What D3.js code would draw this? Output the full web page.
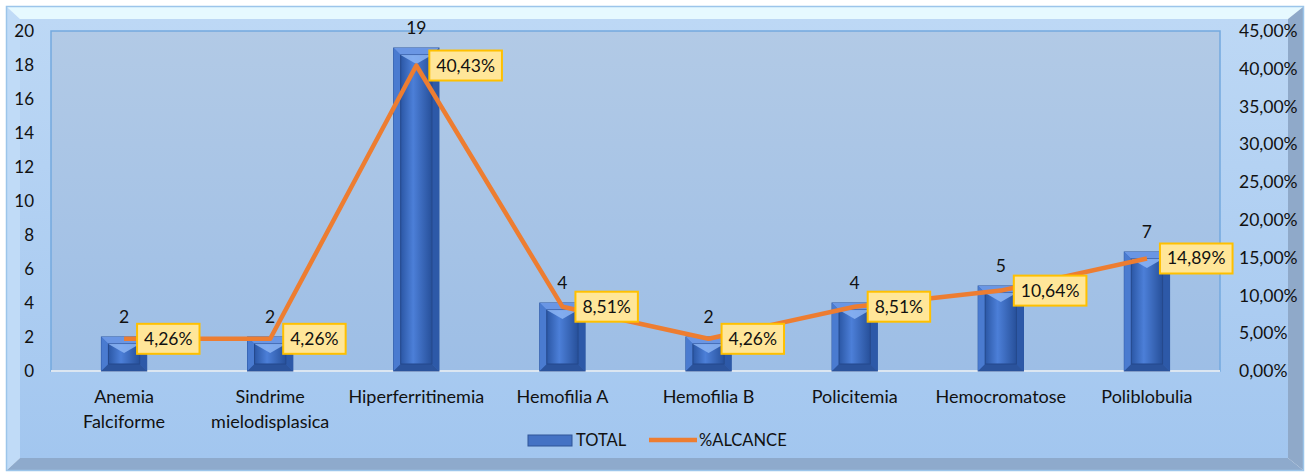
<!DOCTYPE html>
<html>
<head>
<meta charset="utf-8">
<script src="https://cdn.jsdelivr.net/npm/d3@7"></script>
<style>
  body { margin: 0; background: #ffffff; }
  svg text { font-family: Lato, "Open Sans", sans-serif; fill: #111111; }
</style>
</head>
<body>
<svg id="chart" width="1314" height="472"></svg>
<script>
// data
var categories = ["Anemia Falciforme", "Sindrime mielodisplasica", "Hiperferritinemia",
                  "Hemofilia A", "Hemofilia B", "Policitemia", "Hemocromatose", "Poliblobulia"];
var categoryLines = [["Anemia", "Falciforme"], ["Sindrime", "mielodisplasica"], ["Hiperferritinemia"],
                     ["Hemofilia A"], ["Hemofilia B"], ["Policitemia"], ["Hemocromatose"], ["Poliblobulia"]];
var totals = [2, 2, 19, 4, 2, 4, 5, 7];
var alcance = [4.26, 4.26, 40.43, 8.51, 4.26, 8.51, 10.64, 14.89];
var leftTicks = [0, 2, 4, 6, 8, 10, 12, 14, 16, 18, 20];
var rightTicks = [0, 5, 10, 15, 20, 25, 30, 35, 40, 45];
var seriesNames = ["TOTAL", "%ALCANCE"];

var svg = d3.select("#chart");

var plot = { left: 51, right: 1220, top: 31, bottom: 371 };

var ptBR = d3.formatLocale({ decimal: ",", thousands: ".", grouping: [3], currency: ["", ""] });
var fmtPct = ptBR.format(".2f");

var x = d3.scaleBand()
	.domain(categories)
	.range([plot.left, plot.right])
	.paddingInner(0.69)
	.paddingOuter(0.345);

var yLeft = d3.scaleLinear().domain([0, 20]).range([plot.bottom, plot.top]);
var yRight = d3.scaleLinear().domain([0, 45]).range([plot.bottom, plot.top]);

// gradients
var defs = svg.append("defs");

function vGrad(id, c1, c2) {
	var g = defs.append("linearGradient").attr("id", id)
		.attr("x1", 0).attr("y1", 0).attr("x2", 0).attr("y2", 1);
	g.append("stop").attr("offset", "0%").attr("stop-color", c1);
	g.append("stop").attr("offset", "100%").attr("stop-color", c2);
}
vGrad("faceGrad", "#bdd8f5", "#a2c6ef");
vGrad("plotGrad", "#b2cae6", "#9dbee6");

var hg = defs.append("linearGradient").attr("id", "barInner")
	.attr("x1", 0).attr("y1", 0).attr("x2", 1).attr("y2", 0);
hg.append("stop").attr("offset", "0%").attr("stop-color", "#2b57a5");
hg.append("stop").attr("offset", "40%").attr("stop-color", "#4c7fd8");
hg.append("stop").attr("offset", "100%").attr("stop-color", "#27509a");

// 3d frame
var fL = 7, fT = 7, fR = 1303, fB = 470, iL = 20, iT = 19, iR = 1288, iB = 458;
var frame = svg.append("g");
frame.append("polygon").attr("fill", "#e6f9ff")
	.attr("points", [[fL, fT], [fR, fT], [iR, iT], [iL, iT]].join(" "));
frame.append("polygon").attr("fill", "#c0dbf7")
	.attr("points", [[fL, fT], [iL, iT], [iL, iB], [fL, fB]].join(" "));
frame.append("polygon").attr("fill", "#8fa9c9")
	.attr("points", [[fR, fT], [fR, fB], [iR, iB], [iR, iT]].join(" "));
frame.append("polygon").attr("fill", "#8eaacc")
	.attr("points", [[fL, fB], [iL, iB], [iR, iB], [fR, fB]].join(" "));
frame.append("rect").attr("x", iL).attr("y", iT)
	.attr("width", iR - iL).attr("height", iB - iT).attr("fill", "url(#faceGrad)");
frame.append("rect").attr("x", 6.5).attr("y", 6.5)
	.attr("width", 1297).attr("height", 464)
	.attr("fill", "none").attr("stroke", "#9cc5ea").attr("stroke-width", 1.5);

// plot area
svg.append("rect")
	.attr("x", plot.left).attr("y", plot.top)
	.attr("width", plot.right - plot.left).attr("height", plot.bottom - plot.top)
	.attr("fill", "url(#plotGrad)")
	.attr("stroke", "#74a9de").attr("stroke-width", 1.5);
svg.append("line")
	.attr("x1", plot.left).attr("x2", plot.right)
	.attr("y1", plot.bottom).attr("y2", plot.bottom)
	.attr("stroke", "#dce6f1").attr("stroke-width", 2);

// axes (labels only)
var axL = svg.append("g")
	.attr("transform", "translate(34,0)")
	.call(d3.axisLeft(yLeft).tickValues(leftTicks).tickSize(0).tickPadding(0));
axL.select(".domain").remove();
axL.selectAll("text").attr("font-size", 17).style("font-family", "Lato, sans-serif").attr("fill", "#111");

var axR = svg.append("g")
	.attr("transform", "translate(1239,0)")
	.call(d3.axisRight(yRight).tickValues(rightTicks).tickSize(0).tickPadding(0)
		.tickFormat(d => fmtPct(d) + "%"));
axR.select(".domain").remove();
axR.selectAll("text").attr("font-size", 17.5).style("font-family", "Lato, sans-serif").attr("fill", "#111");

// category labels
var catG = svg.append("g");
categories.forEach(function(c, i) {
	var t = catG.append("text")
		.attr("x", x(c) + x.bandwidth() / 2)
		.attr("y", 403)
		.attr("text-anchor", "middle")
		.attr("font-size", 18);
	categoryLines[i].forEach(function(line, j) {
		t.append("tspan").attr("x", x(c) + x.bandwidth() / 2)
			.attr("dy", j == 0 ? 0 : 25).text(line);
	});
});

// bars
var barData = categories.map((c, i) => ({ cat: c, v: totals[i] }));
var bars = svg.append("g").selectAll("g")
	.data(barData)
	.enter()
	.append("g");

var ins = 7;
bars.each(function(d) {
	var g = d3.select(this);
	var x0 = x(d.cat), w = x.bandwidth();
	var y0 = yLeft(d.v), y1 = yLeft(0);
	g.append("rect").attr("x", x0).attr("y", y0).attr("width", w).attr("height", y1 - y0)
		.attr("fill", "#3e6dc2").attr("stroke", "#2a55a0").attr("stroke-width", 1);
	// bevel faces
	g.append("polygon").attr("fill", "#6a96e4")
		.attr("points", [[x0, y0], [x0 + w, y0], [x0 + w - ins, y0 + ins], [x0 + ins, y0 + ins]].join(" "));
	g.append("polygon").attr("fill", "#4a7bd0")
		.attr("points", [[x0, y0], [x0 + ins, y0 + ins], [x0 + ins, y1 - ins], [x0, y1]].join(" "));
	g.append("polygon").attr("fill", "#2d59a8")
		.attr("points", [[x0 + w, y0], [x0 + w, y1], [x0 + w - ins, y1 - ins], [x0 + w - ins, y0 + ins]].join(" "));
	g.append("polygon").attr("fill", "#2b539c")
		.attr("points", [[x0, y1], [x0 + ins, y1 - ins], [x0 + w - ins, y1 - ins], [x0 + w, y1]].join(" "));
	g.append("rect").attr("x", x0 + ins).attr("y", y0 + ins)
		.attr("width", w - 2 * ins).attr("height", Math.max(0, y1 - y0 - 2 * ins))
		.attr("fill", "url(#barInner)")
		.attr("stroke", "#25498c").attr("stroke-width", 1);
	// top highlight
	var cx = x0 + w / 2;
	g.append("polygon").attr("fill", "#8cb5f5").attr("opacity", 0.85)
		.attr("points", [[x0 + ins, y0 + ins], [x0 + w - ins, y0 + ins], [cx, y0 + ins + 9]].join(" "));
});

// bar value labels
svg.append("g").selectAll("text")
	.data(barData)
	.enter()
	.append("text")
		.attr("x", d => x(d.cat) + x.bandwidth() / 2)
		.attr("y", d => yLeft(d.v) - 14)
		.attr("text-anchor", "middle")
		.attr("font-size", 17.5)
		.text(d => d.v);

// line
var lineData = categories.map((c, i) => ({ cat: c, v: alcance[i] }));
var line = d3.line()
	.x(d => x(d.cat) + x.bandwidth() / 2)
	.y(d => yRight(d.v));
svg.append("path")
	.datum(lineData)
	.attr("d", line)
	.attr("fill", "none")
	.attr("stroke", "#ed7d31")
	.attr("stroke-width", 4.5)
	.attr("stroke-linejoin", "round");

// percent labels
var pl = svg.append("g").selectAll("g")
	.data(lineData)
	.enter()
	.append("g")
		.attr("transform", d => "translate(" + (x(d.cat) + x.bandwidth() / 2 + 13) + "," + yRight(d.v) + ")");
pl.each(function(d) {
	var g = d3.select(this);
	var txt = g.append("text")
		.attr("x", 7).attr("y", 6)
		.attr("font-size", 17.5)
		.text(fmtPct(d.v) + "%");
	var tw = txt.node().getComputedTextLength();
	g.insert("rect", "text")
		.attr("x", 0).attr("y", -15)
		.attr("width", tw + 14).attr("height", 30)
		.attr("fill", "#ffe699").attr("stroke", "#ffc000").attr("stroke-width", 2);
});

// legend
var lg = svg.append("g");
lg.append("rect").attr("x", 528).attr("y", 435).attr("width", 44).attr("height", 11)
	.attr("fill", "#4472c4").attr("stroke", "#2f5597");
lg.append("text").attr("x", 576).attr("y", 446).attr("font-size", 16.5).text(seriesNames[0]);
lg.append("line").attr("x1", 649).attr("x2", 697).attr("y1", 440).attr("y2", 440)
	.attr("stroke", "#ed7d31").attr("stroke-width", 4.5);
lg.append("text").attr("x", 699).attr("y", 446).attr("font-size", 16.5).text(seriesNames[1]);
</script>
</body>
</html>
